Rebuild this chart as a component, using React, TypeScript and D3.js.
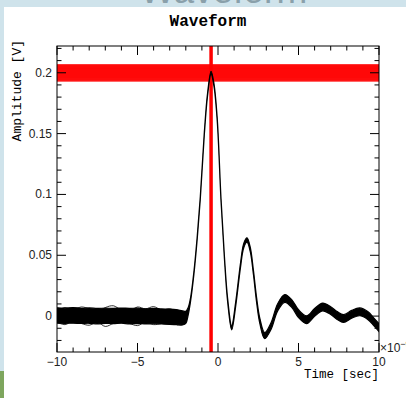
import React from "react";
import * as d3 from "d3";

// time in units of 1e-9 s, amplitude in volts
const times = [-10, -9.5, -9, -8.5, -8, -7.5, -7, -6.5, -6, -5.5, -5, -4.5, -4, -3.5, -3, -2.6, -2.2, -2.0, -1.85, -1.7, -1.5, -1.3, -1.1, -0.85, -0.65, -0.43, -0.25, -0.05, 0.19, 0.4, 0.6, 0.85, 1.1, 1.4, 1.6, 1.8, 2.0, 2.2, 2.4, 2.6, 2.9, 3.3, 3.7, 4.15, 4.6, 5.0, 5.5, 6.0, 6.5, 7.0, 7.4, 7.8, 8.3, 8.8, 9.3, 9.7, 10];
const meanAmp = [0.0005, 0.0003, 0.0006, 0.0002, 0.0004, 0.0, 0.0003, 0.0001, 0.0004, 0.0, 0.0002, -0.0002, 0.0, -0.0003, -0.0005, -0.0008, -0.0015, -0.001, 0.004, 0.014, 0.035, 0.063, 0.097, 0.15, 0.182, 0.2, 0.19, 0.162, 0.095, 0.048, 0.013, -0.0095, 0.01, 0.042, 0.058, 0.0625, 0.055, 0.036, 0.013, -0.004, -0.016, -0.008, 0.007, 0.0145, 0.01, 0.002, -0.003, 0.003, 0.0075, 0.0045, 0.0005, -0.002, 0.0015, 0.0035, 0.0005, -0.005, -0.0095];
const spread = [0.0063, 0.0062, 0.0064, 0.0062, 0.0063, 0.0064, 0.0062, 0.0063, 0.0062, 0.0064, 0.0063, 0.0062, 0.0063, 0.0062, 0.0063, 0.0062, 0.0058, 0.005, 0.003, 0.0015, 0.0012, 0.0012, 0.0012, 0.0012, 0.0012, 0.0012, 0.0012, 0.0012, 0.0012, 0.0012, 0.0015, 0.0018, 0.0018, 0.0018, 0.0018, 0.0018, 0.0018, 0.0018, 0.002, 0.0022, 0.0025, 0.0028, 0.003, 0.0032, 0.0032, 0.0032, 0.0032, 0.0032, 0.0032, 0.0032, 0.0032, 0.0032, 0.0032, 0.0032, 0.0032, 0.0032, 0.0032];

// a few stray traces on the baseline
const strayTimes = [-10, -9.5, -9, -8.5, -8, -7.5, -7, -6.5, -6, -5.5, -5, -4.5, -4, -3.5, -3, -2.5, -2.1];
const strayA = [0.004, 0.007, 0.005, 0.0075, 0.006, 0.003, 0.007, 0.0085, 0.005, 0.004, 0.0075, 0.006, 0.0078, 0.005, 0.006, 0.003, 0.0];
const strayB = [-0.005, -0.007, -0.004, -0.006, -0.0075, -0.005, -0.0085, -0.006, -0.004, -0.006, -0.0078, -0.005, -0.007, -0.006, -0.004, -0.0072, -0.004];

// peak amplitude markers (red horizontal band) and peak time marker
const peakAmps = [0.1935, 0.1943, 0.1951, 0.1959, 0.1967, 0.1975, 0.1983, 0.1991, 0.1999, 0.2007, 0.2015, 0.2023, 0.2031, 0.2039, 0.2047, 0.2055, 0.2063];
const peakTime = -0.43;

const xMajor = [-10, -5, 0, 5, 10];
const xLabels = ["\u221210", "\u22125", "0", "5", "10"];
const yMajor = [0, 0.05, 0.1, 0.15, 0.2];
const yLabels = ["0", "0.05", "0.1", "0.15", "0.2"];

const W = 406;
const H = 398;
const left = 57, right = 379, top = 46, bottom = 352;

export default function App() {
  const x = d3.scaleLinear().domain([-10, 10]).range([left, right]);
  const y = d3.scaleLinear().domain([-0.0295, 0.222]).range([bottom, top]);

  const pts = times.map((t, i) => ({ t, v: meanAmp[i], s: spread[i] }));
  const area = d3.area<any>()
    .x(d => x(d.t))
    .y0(d => y(d.v - d.s))
    .y1(d => y(d.v + d.s))
    .curve(d3.curveCatmullRom);
  const line = d3.line<any>()
    .x(d => x(d.t))
    .y(d => y(d.v))
    .curve(d3.curveCatmullRom);
  const stray = (vals: number[]) =>
    line(strayTimes.map((t, i) => ({ t, v: vals[i] })));

  const xMinor = x.ticks(20);
  const yMinor = d3.range(-2, 23).map(k => k * 0.01);
  const mono = "'Liberation Mono', 'Courier New', monospace";
  const sans = "'Liberation Sans', Arial, Helvetica, sans-serif";

  return (
    <svg width={W} height={H} style={{ position: "absolute", left: 0, top: 0 }}>
      <rect x={0} y={0} width={W} height={H} fill="#cfe3eb" />
      <rect x={0} y={371} width={4} height={H - 371} fill="#7ea65e" />
      <text x={140} y={3} fontFamily={sans} fontSize={37} fill="#8aa0aa">Waveform</text>
      <rect x={4} y={7} width={W - 4} height={H - 7} fill="#fff" />

      <text x={208} y={26} textAnchor="middle" fontFamily={mono} fontWeight="bold" fontSize={16}>Waveform</text>

      <defs>
        <clipPath id="frame">
          <rect x={left} y={top} width={right - left} height={bottom - top} />
        </clipPath>
      </defs>

      <g clipPath="url(#frame)">
        {peakAmps.map((a, i) => (
          <line key={i} x1={left} x2={right} y1={y(a)} y2={y(a)} stroke="#ff0000" strokeWidth={2.2} strokeOpacity={0.8} />
        ))}
        <line x1={x(peakTime)} x2={x(peakTime)} y1={top} y2={bottom} stroke="#ff0000" strokeWidth={3.5} />
        <path d={area(pts) || ""} fill="#000" stroke="#000" strokeWidth={1.2} />
        <path d={stray(strayA) || ""} fill="none" stroke="#000" strokeWidth={0.8} />
        <path d={stray(strayB) || ""} fill="none" stroke="#000" strokeWidth={0.8} />
      </g>

      {/* frame */}
      <rect x={left} y={top} width={right - left} height={bottom - top} fill="none" stroke="#000" strokeWidth={1} />

      {/* ticks on all four sides */}
      {xMinor.map(t => {
        const major = xMajor.includes(t);
        const len = major ? 9 : 4.5;
        return (
          <g key={"xt" + t} stroke="#000" strokeWidth={1}>
            <line x1={x(t)} x2={x(t)} y1={bottom} y2={bottom - len} />
            <line x1={x(t)} x2={x(t)} y1={top} y2={top + len} />
          </g>
        );
      })}
      {yMinor.map((v, i) => {
        const major = i % 5 === 2;
        const len = major ? 9 : 4.5;
        return (
          <g key={"yt" + i} stroke="#000" strokeWidth={1}>
            <line x1={left} x2={left + len} y1={y(v)} y2={y(v)} />
            <line x1={right} x2={right - len} y1={y(v)} y2={y(v)} />
          </g>
        );
      })}

      {xMajor.map((t, i) => (
        <text key={"xl" + i} x={x(t)} y={366} textAnchor="middle" fontFamily={sans} fontSize={12} fill="#222">{xLabels[i]}</text>
      ))}
      {yMajor.map((v, i) => (
        <text key={"yl" + i} x={52} y={y(v) + 4} textAnchor="end" fontFamily={sans} fontSize={12} fill="#222">{yLabels[i]}</text>
      ))}

      <text x={380} y={352} fontFamily={sans} fontSize={12} fill="#222">{"\u00d710"}<tspan dy={-5} fontSize={9}>{"\u22129"}</tspan></text>
      <text x={379} y={378} textAnchor="end" fontFamily={mono} fontSize={12.5}>Time [sec]</text>
      <text transform={`translate(21,${top - 6}) rotate(-90)`} textAnchor="end" fontFamily={mono} fontSize={13}>Amplitude [V]</text>
    </svg>
  );
}
